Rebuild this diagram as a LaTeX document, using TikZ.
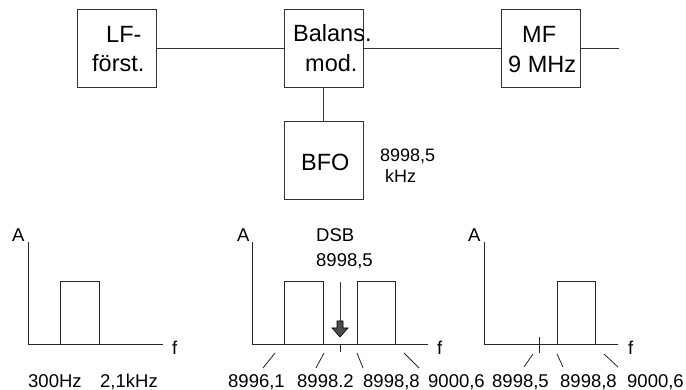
\documentclass[tikz,border=0pt]{standalone}
\usepackage{fontspec}
\setmainfont{Liberation Sans}
\begin{document}
\begin{tikzpicture}[x=1pt,y=-1pt,
  blk/.style={draw=black!80, line width=1pt, minimum width=79pt, minimum height=78pt, anchor=north west, inner sep=0pt, outer sep=0pt},
  wire/.style={draw=black!80, line width=1pt},
  ax/.style={draw=black!85, line width=1pt},
  lead/.style={draw=black!85, line width=0.8pt},
  big/.style={font=\fontsize{23.5}{28}\selectfont, inner sep=0pt, anchor=base west},
  lbl/.style={font=\fontsize{18.5}{22}\selectfont, inner sep=0pt, anchor=base west},
  sml/.style={font=\fontsize{18}{22}\selectfont, inner sep=0pt, anchor=base west}]
\useasboundingbox (0,0) rectangle (686,390);
% block diagram
\node[blk] (lf) at (77,10) {};
\node[blk] (bal) at (284,10) {};
\node[blk] (mf) at (501,10) {};
\node[blk] (bfo) at (284,122) {};
\coordinate (out) at (619,49);
\draw[wire] (lf.east) -- (bal.west);
\draw[wire] (bal.east) -- (mf.west);
\draw[wire] (mf.east) -- (out);
\draw[wire] (bal.south) -- (bfo.north);
\node[big] (t1) at (106,43) {LF-};
\node[big] (t2) at (92,72) {först.};
\node[big] (t3) at (293,42) {Balans.};
\node[big] (t4) at (305,72) {mod.};
\node[big] (t5) at (522,43) {MF};
\node[big] (t6) at (508,73) {9 MHz};
\node[big] (t7) at (301,171) {BFO};
\node[sml] (t8) at (380,162) {8998,5};
\node[sml] (t9) at (385,183) {kHz};
% graph 1
\draw[ax] (28,242) -- (28,345) -- (163,345);
\draw[ax] (60,282) rectangle (99,345);
\node[lbl] (a1) at (12,242) {A};
\node[lbl] (f1) at (172,355) {f};
\node[lbl] (l1) at (28,387) {300Hz};
\node[lbl] (l2) at (100,387) {2,1kHz};
% graph 2
\draw[ax] (252,242) -- (252,345) -- (428,345);
\draw[ax] (284,282) rectangle (323,345);
\draw[ax] (357,282) rectangle (395,345);
\draw[ax] (340,345) -- (340,352);
\draw[draw=black!80, line width=0.8pt] (340,282) -- (340,321);
\draw[draw=black, fill=black!70, line width=0.6pt] (337,321) -- (343,321) -- (343,328) -- (348,328) -- (340,337) -- (332,328) -- (337,328) -- cycle;
\draw[lead] (275,353) -- (263,368);
\draw[lead] (324,353) -- (316,368);
\draw[lead] (357,353) -- (363,368);
\draw[lead] (404,353) -- (419,368);
\node[lbl] (a2) at (237,242) {A};
\node[lbl] (f2) at (437,355) {f};
\node[lbl] (dsb) at (316,242) {DSB};
\node[lbl] (dsbf) at (316,267) {8998,5};
\node[lbl] (l3) at (228,387) {8996,1};
\node[lbl] (l4) at (297,387) {8998.2};
\node[lbl] (l5) at (363,387) {8998,8};
\node[lbl] (l6) at (428,387) {9000,6};
% graph 3
\draw[ax] (484,242) -- (484,345) -- (618,345);
\draw[ax] (557,282) rectangle (595,345);
\draw[ax] (539,337) -- (539,353);
\draw[lead] (533,354) -- (524,367);
\draw[lead] (557,354) -- (563,367);
\draw[lead] (604,354) -- (618,367);
\node[lbl] (a3) at (468,242) {A};
\node[lbl] (f3) at (628,355) {f};
\node[lbl] (l7) at (492,387) {8998,5};
\node[lbl] (l8) at (560,387) {8998,8};
\node[lbl] (l9) at (627,387) {9000,6};
\end{tikzpicture}
\end{document}
